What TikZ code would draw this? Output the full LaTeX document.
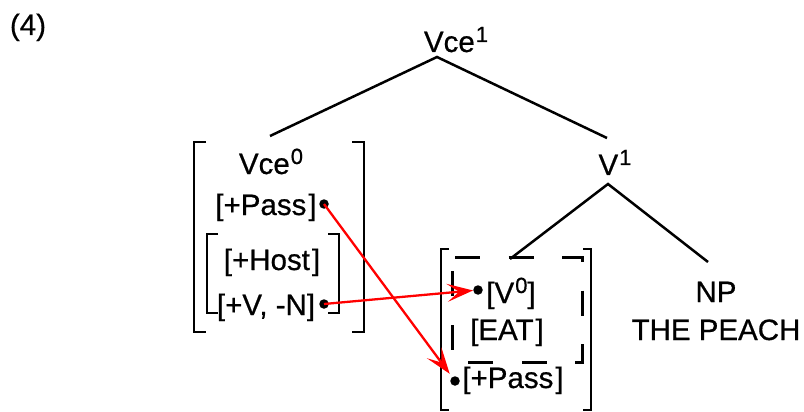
\documentclass[tikz,border=0pt]{standalone}
\usepackage{fontspec}
\setmainfont{Liberation Sans}[FakeBold=0.6]
\newfontfamily\heavy{Liberation Sans}[FakeBold=0.6]
\usetikzlibrary{arrows.meta}
\tikzset{
 lbl/.style={anchor=base, inner sep=0pt, font=\heavy\fontsize{29.5}{31}\selectfont},
 tree/.style={line width=2.5pt},
 brk/.style={line width=2.5pt},
 dashbox/.style={line width=3pt, dash pattern=on 25pt off 28.5pt, dash phase=50.5pt},
 dotnode/.style={circle, fill=black, inner sep=0pt, minimum size=9.5pt},
 link/.style={red, line width=2.3pt, -{Stealth[length=26pt,width=18pt,inset=12pt]}},
}
\newcommand{\sups}[1]{\kern1pt\raisebox{10pt}{\fontsize{22}{22}\selectfont #1}}
\begin{document}
\begin{tikzpicture}[x=1pt,y=-1pt]
\useasboundingbox (0,0) rectangle (804,412);
% labels
\node[lbl] (num) at (28,35) {(4)};
\node[lbl] (vce1) at (456,52) {Vce\sups{1}};
\node[lbl] (v1) at (615,175) {V\sups{1}};
\node[lbl] (np) at (716,302) {NP};
\node[lbl] (peach) at (716,340) {THE PEACH};
\node[lbl] (vce0) at (271,174) {Vce\sups{0}};
\node[lbl] (pass1) at (266,215) {[+Pass\kern2pt]};
\node[lbl] (host) at (272,270) {[+Host\kern2pt]};
\node[lbl] (vn) at (266,315) {[+V, -N]};
\node[lbl] (v0) at (511,303) {[V\sups{0}]};
\node[lbl] (eat) at (507,340) {[EAT\kern2pt]};
\node[lbl] (pass2) at (513,388) {[+Pass\kern2pt]};
% tree
\coordinate (top) at (437,57);
\coordinate (vce0top) at (270,136);
\coordinate (v1bot) at (607,138);
\coordinate (v1apex) at (608,184);
\coordinate (v0top) at (510,259);
\coordinate (nptop) at (708,262);
\draw[tree] (vce0top) -- (top) -- (v1bot);
\draw[tree] (v0top) -- (v1apex) -- (nptop);
% brackets
\draw[brk] (206,142) -- (194,142) -- (194,332) -- (206,332);
\draw[brk] (352,142) -- (364,142) -- (364,332) -- (352,332);
\draw[brk] (218,234) -- (207,234) -- (207,313) -- (218,313);
\draw[brk] (328,234) -- (339,234) -- (339,313) -- (328,313);
\draw[brk] (449,249) -- (441,249) -- (441,410) -- (449,410);
\draw[brk] (583,249) -- (591,249) -- (591,410) -- (583,410);
\draw[dashbox] (452,257) -- (582,257) -- (582,362) -- (452,362) -- cycle;
% dots
\node[dotnode] (dA) at (324,204) {};
\node[dotnode] (dB) at (324,304) {};
\node[dotnode] (dC) at (478,290) {};
\node[dotnode] (dD) at (455,381) {};
% links
\draw[link, shorten >=4pt] (dA.center) -- (dD);
\draw[link] (dB.center) -- (dC);
\end{tikzpicture}
\end{document}
